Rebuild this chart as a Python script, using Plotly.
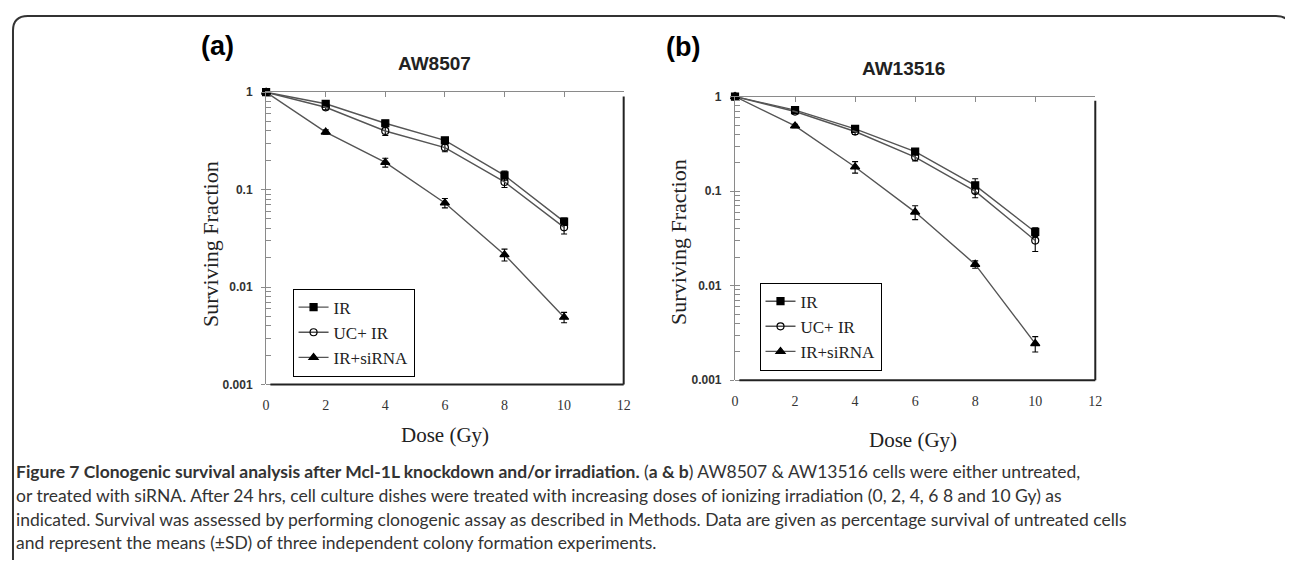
import plotly.graph_objects as go

# page body has an 8px margin; size the figure so that the whole page is 1293x568
OFF = 8
FW, FH = 1293 - 2 * OFF, 568 - 2 * OFF

dose = [0, 2, 4, 6, 8, 10]
series_names = ["IR", "UC+ IR", "IR+siRNA"]

# Panel (a) AW8507
a_ir = [1.0, 0.76, 0.48, 0.32, 0.14, 0.047]
a_ir_sd = [0.0, 0.03, 0.03, 0.02, 0.015, 0.004]
a_uc = [1.0, 0.70, 0.40, 0.27, 0.12, 0.041]
a_uc_sd = [0.0, 0.04, 0.04, 0.025, 0.015, 0.006]
a_si = [1.0, 0.39, 0.19, 0.073, 0.0215, 0.0049]
a_si_sd = [0.0, 0.02, 0.02, 0.008, 0.003, 0.0006]

# Panel (b) AW13516
b_ir = [1.0, 0.72, 0.456, 0.262, 0.115, 0.037]
b_ir_sd = [0.0, 0.03, 0.03, 0.015, 0.02, 0.004]
b_uc = [1.0, 0.695, 0.427, 0.229, 0.10, 0.030]
b_uc_sd = [0.0, 0.03, 0.03, 0.02, 0.015, 0.007]
b_si = [1.0, 0.49, 0.18, 0.060, 0.0168, 0.00244]
b_si_sd = [0.0, 0.02, 0.025, 0.01, 0.0015, 0.00045]

x_ticks = [0, 2, 4, 6, 8, 10, 12]
y_ticks = [0.001, 0.01, 0.1, 1]
y_ticktext = ["0.001", "0.01", "0.1", "1"]

panel_titles = ["AW8507", "AW13516"]
panel_letters = ["(a)", "(b)"]

caption_lines = [
    "<b>Figure 7 Clonogenic survival analysis after Mcl-1L knockdown and/or irradiation.</b> (<b>a &amp; b</b>) AW8507 &amp; AW13516 cells were either untreated,",
    "or treated with siRNA. After 24 hrs, cell culture dishes were treated with increasing doses of ionizing irradiation (0, 2, 4, 6 8 and 10 Gy) as",
    "indicated. Survival was assessed by performing clonogenic assay as described in Methods. Data are given as percentage survival of untreated cells",
    "and represent the means (\u00b1SD) of three independent colony formation experiments.",
]

def px(x):
    return (x - OFF) / FW

def py(y):
    return 1 - ((y - 11) / 0.976) / FH

def fy(f):
    return 1 - f / FH

LINE = "#555555"
symbols = ["square", "circle-open", "triangle-up"]
fig = go.Figure()

panels = [
    dict(data=[(a_ir, a_ir_sd), (a_uc, a_uc_sd), (a_si, a_si_sd)],
         xd=[px(264.3), px(625)], yd=[py(381), py(88.3)],
         legend="legend", leg=(px(291), py(285))),
    dict(data=[(b_ir, b_ir_sd), (b_uc, b_uc_sd), (b_si, b_si_sd)],
         xd=[px(737.3), px(1100.7)], yd=[py(376.7), py(92.7)],
         legend="legend2", leg=(px(762), py(279))),
]

layout_axes = {}
for i, p in enumerate(panels):
    xa = "x" if i == 0 else "x3"
    ya = "y" if i == 0 else "y2"
    xtop = "x2" if i == 0 else "x4"
    for (vals, sd), name, sym in zip(p["data"], series_names, symbols):
        fig.add_trace(go.Scatter(
            x=dose, y=vals, name=name, mode="lines+markers",
            xaxis=xa, yaxis=ya, legend=p["legend"],
            line=dict(color=LINE, width=1.4),
            marker=dict(symbol=sym, size=7 if sym != "triangle-up" else 8,
                        color="black", line=dict(color="black", width=1.2)),
            error_y=dict(type="data", array=sd, color="black", thickness=1.1, width=3),
            cliponaxis=False,
        ))
    fig.add_trace(go.Scatter(x=[0], y=[1], xaxis=xtop, yaxis=ya, mode="markers",
                             marker=dict(opacity=0), showlegend=False, hoverinfo="skip"))

    xname = "xaxis" if i == 0 else "xaxis3"
    yname = "yaxis" if i == 0 else "yaxis2"
    xtopname = "xaxis2" if i == 0 else "xaxis4"
    layout_axes[xname] = dict(
        domain=p["xd"], anchor=ya, range=[0, 12], tickvals=x_ticks,
        showline=False, ticks="", showgrid=False, zeroline=False,
        ticklabelstandoff=11,
        tickfont=dict(family="Liberation Serif", size=14, color="#333333"),
    )
    layout_axes[xtopname] = dict(
        overlaying=xa, side="top", anchor=ya, range=[0, 12], tickvals=x_ticks,
        showline=True, linecolor="#8a8a8a", linewidth=1.2, ticks="inside",
        ticklen=5, tickcolor="#8a8a8a", showticklabels=False, showgrid=False,
        zeroline=False,
    )
    layout_axes[yname] = dict(
        domain=p["yd"], anchor=xa, type="log", range=[-3, 0],
        tickvals=y_ticks, ticktext=y_ticktext,
        showline=True, linecolor="#8a8a8a", linewidth=1.2,
        ticks="outside", ticklen=4, tickcolor="#8a8a8a",
        minor=dict(ticks="inside", ticklen=5, tickcolor="#8a8a8a", dtick="D1", showgrid=False),
        showgrid=False, zeroline=False, ticklabelstandoff=6,
        tickfont=dict(family="Liberation Sans", size=12, color="#333333", weight="bold"),
    )
    layout_axes[p["legend"]] = dict(
        x=p["leg"][0], y=p["leg"][1], xanchor="left", yanchor="top",
        bgcolor="white", bordercolor="black", borderwidth=1,
        font=dict(family="Liberation Serif", size=17, color="#222222"),
        tracegroupgap=0, itemwidth=30,
    )

shapes = []
for xa, ya in [("x", "y"), ("x3", "y2")]:
    shapes.append(dict(type="line", xref=f"{xa} domain", yref=f"{ya} domain",
                       x0=0.012, x1=1, y0=0, y1=0, line=dict(color="#222222", width=2)))
    shapes.append(dict(type="line", xref=f"{xa} domain", yref=f"{ya} domain",
                       x0=1, x1=1, y0=0, y1=0.985, line=dict(color="#222222", width=2)))

# outer frame (rounded top corners); right edge runs just past the picture
r = 15
x0f, x1f = 9, 1298
t0, b0 = 1, 600
path = (f"M {px(x0f)},{fy(b0)} L {px(x0f)},{fy(t0 + r)} "
        f"Q {px(x0f)},{fy(t0)} {px(x0f + r)},{fy(t0)} "
        f"L {px(x1f - r)},{fy(t0)} Q {px(x1f)},{fy(t0)} {px(x1f)},{fy(t0 + r)} "
        f"L {px(x1f)},{fy(b0)}")
shapes.append(dict(type="path", xref="paper", yref="paper", path=path,
                   line=dict(color="#333333", width=2)))

annotations = []
for letter, lx, ly in zip(panel_letters, [215, 685], [42, 43]):
    annotations.append(dict(text=f"<b>{letter}</b>", x=px(lx), y=py(ly), xref="paper", yref="paper",
                            showarrow=False, xanchor="center", yanchor="middle",
                            font=dict(family="Liberation Sans", size=27, color="black")))
for t, tx, ty in zip(panel_titles, [434, 907], [60, 65]):
    annotations.append(dict(text=f"<b>{t}</b>", x=px(tx), y=py(ty), xref="paper", yref="paper",
                            showarrow=False, xanchor="center", yanchor="middle",
                            font=dict(family="Liberation Sans", size=19, color="#222222")))
for tx, ty in [(208, 240), (680, 238)]:
    annotations.append(dict(text="Surviving Fraction", x=px(tx), y=py(ty), xref="paper", yref="paper",
                            showarrow=False, textangle=-90, xanchor="center", yanchor="middle",
                            font=dict(family="Liberation Serif", size=22, color="#222222")))
for tx, ty in [(445, 432), (917, 437)]:
    annotations.append(dict(text="Dose (Gy)", x=px(tx), y=py(ty), xref="paper", yref="paper",
                            showarrow=False, xanchor="center", yanchor="middle",
                            font=dict(family="Liberation Serif", size=21, color="#222222")))
for line, ly in zip(caption_lines, [468, 492, 516, 539]):
    annotations.append(dict(text=line, x=px(10), y=py(ly), xref="paper", yref="paper",
                            showarrow=False, xanchor="left", yanchor="middle", align="left",
                            font=dict(family="Lato", size=17.5, color="#333333")))

fig.update_layout(
    width=FW, height=FH, margin=dict(l=0, r=0, t=0, b=0),
    paper_bgcolor="white", plot_bgcolor="white",
    shapes=shapes, annotations=annotations,
    **layout_axes,
)

fig.write_html("out.html")
